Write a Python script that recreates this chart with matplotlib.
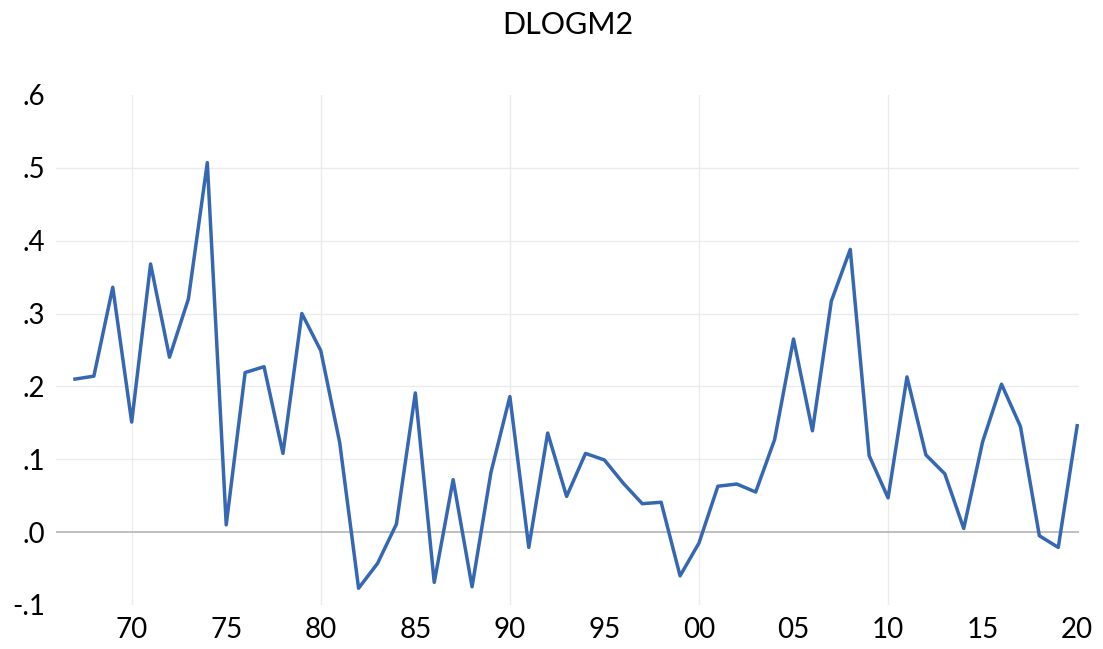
import matplotlib.pyplot as plt
import numpy as np

# ─── Data ───────────────────────────────────────────────────────────────────
YEARS = list(range(1967, 2021))
DLOGM2 = [
    0.210, 0.214, 0.336, 0.151, 0.368, 0.240, 0.320, 0.507, 0.010, 0.219,
    0.227, 0.108, 0.300, 0.249, 0.123, -0.077, -0.043, 0.011, 0.191, -0.069,
    0.072, -0.075, 0.082, 0.186, -0.021, 0.136, 0.049, 0.108, 0.099, 0.067,
    0.039, 0.041, -0.060, -0.015, 0.063, 0.066, 0.055, 0.127, 0.265, 0.139,
    0.317, 0.388, 0.105, 0.047, 0.213, 0.106, 0.080, 0.005, 0.124, 0.203,
    0.145, -0.005, -0.021, 0.146,
]
X_TICKS = list(range(1970, 2021, 5))
Y_TICKS = [-0.1, 0.0, 0.1, 0.2, 0.3, 0.4, 0.5, 0.6]

# ─── Style ──────────────────────────────────────────────────────────────────
plt.rcParams["font.family"] = ["Lato", "DejaVu Sans"]
LINE_COLOR = "#3567b3"
GRID_COLOR = "#ebebeb"

fig = plt.figure(figsize=(11.03, 6.49), dpi=100)
ax = fig.add_axes([0.0508, 0.0678, 0.9275, 0.786])

# grid: horizontal at each positive tick, vertical every ten years
for v in Y_TICKS[2:-1]:
    ax.axhline(v, color=GRID_COLOR, lw=1.0, zorder=0)
for yr in range(1970, 2020, 10):
    ax.axvline(yr, color=GRID_COLOR, lw=1.0, zorder=0)
ax.axhline(0.0, color="#b4b4b4", lw=1.2, zorder=1)

ax.plot(YEARS, DLOGM2, color=LINE_COLOR, lw=2.5, zorder=2)

ax.set_xlim(1966, 2020.1)
ax.set_ylim(-0.1, 0.6)
ax.set_xticks(X_TICKS)
ax.set_xticklabels([f"{y % 100:02d}" for y in X_TICKS])
ax.set_yticks(Y_TICKS)
ax.set_yticklabels([("-" if v < 0 else "") + f"{abs(v):.1f}"[1:] for v in Y_TICKS])
ax.tick_params(axis="both", length=0, colors="black")
ax.tick_params(axis="x", pad=9, labelsize=20)
ax.tick_params(axis="y", pad=8, labelsize=20)
for s in ax.spines.values():
    s.set_visible(False)

fig.text(0.5145, 0.9476, "DLOGM2", ha="center", va="baseline", fontsize=22)

fig.savefig("out.png", dpi=100)
